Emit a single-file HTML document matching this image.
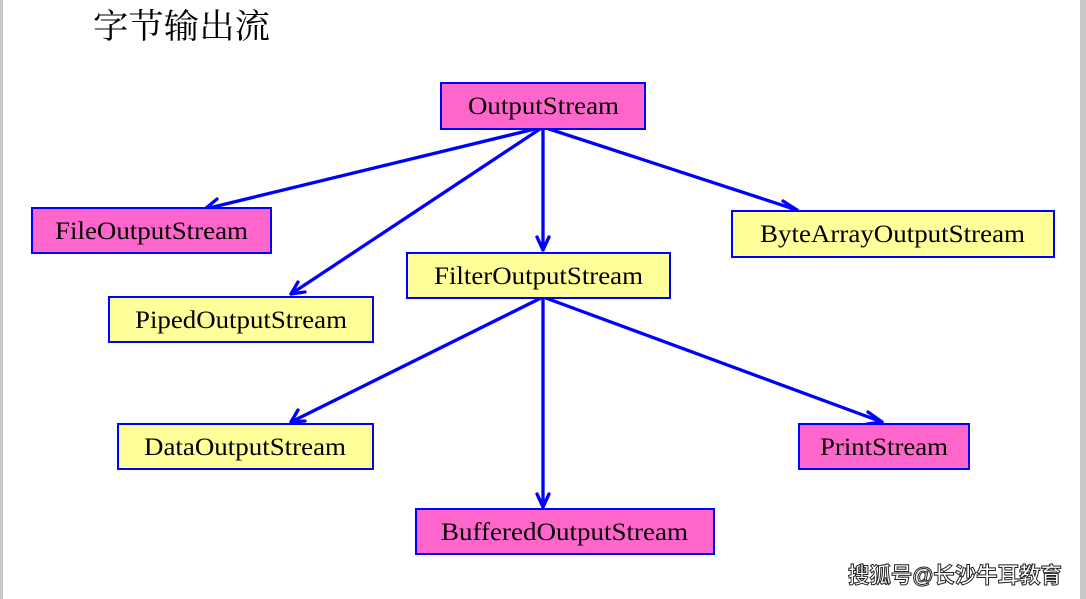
<!DOCTYPE html>
<html><head><meta charset="utf-8"><style>
html,body{margin:0;padding:0;background:#fff;}
svg{display:block;}
text{font-family:"Liberation Serif",serif;font-size:25px;fill:#000;}
</style></head><body>
<svg width="1086" height="599" viewBox="0 0 1086 599" xmlns="http://www.w3.org/2000/svg">
<rect x="0" y="0" width="1086" height="599" fill="#fff"/>
<rect x="0" y="0" width="3" height="599" fill="#c8c8c8"/>
<rect x="1080" y="0" width="6" height="599" fill="#c8c8c8"/>
<text x="93" y="38" textLength="177" lengthAdjust="spacingAndGlyphs" style="font-family:'Liberation Serif','Noto Serif CJK SC',serif;font-size:34px">字节输出流</text>
<g stroke="#0000ff" stroke-width="3.3" fill="none" stroke-linecap="round" stroke-linejoin="round">
<line x1="543" y1="127" x2="205" y2="209"/>
<polyline points="217,199 205,209 219,212"/>
<line x1="543" y1="127" x2="291" y2="294"/>
<polyline points="298,282 291,294 305,292"/>
<line x1="543" y1="127" x2="543" y2="250"/>
<polyline points="537,237 543,250 549,237"/>
<line x1="543" y1="127" x2="797" y2="210"/>
<polyline points="783,201 797,210 783,213"/>
<line x1="543" y1="297" x2="291" y2="422"/>
<polyline points="298,410 291,422 305,421"/>
<line x1="543" y1="297" x2="543" y2="507"/>
<polyline points="537,494 543,507 549,494"/>
<line x1="543" y1="297" x2="882" y2="422"/>
<polyline points="868,412 882,422 867,424"/>
</g>
<g stroke="#0000ff" stroke-width="2">
<rect x="441" y="83" width="204" height="46" fill="#ff66cc"/>
<rect x="32" y="208" width="239" height="45" fill="#ff66cc"/>
<rect x="732" y="211" width="322" height="46" fill="#ffff99"/>
<rect x="407" y="253" width="263" height="45" fill="#ffff99"/>
<rect x="109" y="297" width="264" height="45" fill="#ffff99"/>
<rect x="118" y="424" width="255" height="45" fill="#ffff99"/>
<rect x="799" y="424" width="170" height="45" fill="#ff66cc"/>
<rect x="416" y="509" width="298" height="45" fill="#ff66cc"/>
</g>
<text x="468" y="114" textLength="151" lengthAdjust="spacingAndGlyphs">OutputStream</text>
<text x="55" y="239" textLength="193" lengthAdjust="spacingAndGlyphs">FileOutputStream</text>
<text x="760" y="242" textLength="265" lengthAdjust="spacingAndGlyphs">ByteArrayOutputStream</text>
<text x="434" y="284" textLength="209" lengthAdjust="spacingAndGlyphs">FilterOutputStream</text>
<text x="135" y="328" textLength="212" lengthAdjust="spacingAndGlyphs">PipedOutputStream</text>
<text x="144" y="455" textLength="202" lengthAdjust="spacingAndGlyphs">DataOutputStream</text>
<text x="820" y="455" textLength="128" lengthAdjust="spacingAndGlyphs">PrintStream</text>
<text x="441" y="540" textLength="247" lengthAdjust="spacingAndGlyphs">BufferedOutputStream</text>
<text x="848" y="583" textLength="214" lengthAdjust="spacingAndGlyphs" style="font-family:'Liberation Sans','Noto Sans CJK SC',sans-serif;font-size:22px;font-weight:bold;fill:#fff;stroke:#222;stroke-width:1">搜狐号@长沙牛耳教育</text>
</svg>
</body></html>
